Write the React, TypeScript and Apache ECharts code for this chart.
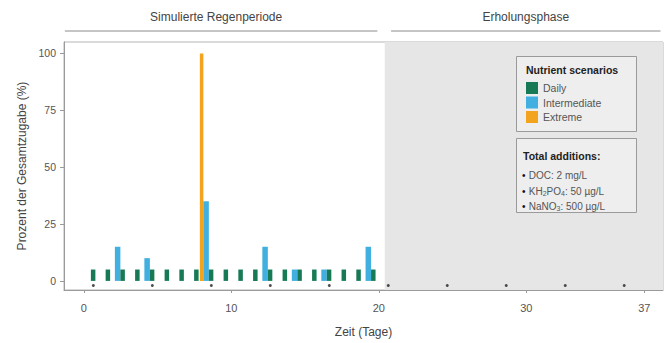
import React, { useEffect, useRef } from "react";
import * as echarts from "echarts";

// ---- data ----
const dailyDays = [0, 1, 2, 3, 4, 5, 6, 7, 8, 9, 10, 11, 12, 13, 14, 15, 16, 17, 18, 19];
const dailyValues = [5, 5, 5, 5, 5, 5, 5, 5, 5, 5, 5, 5, 5, 5, 5, 5, 5, 5, 5, 5];
const intermediateDays = [2, 4, 8, 12, 14, 16, 19];
const intermediateValues = [15, 10, 35, 15, 5, 5, 15];
const extremeDays = [8];
const extremeValues = [100];
const samplingDays = [0, 4, 8, 12, 16, 20, 24, 28, 32, 36];
const samplingLevel = -2;

const xTickValues = [0, 10, 20, 30, 38];
const xTickLabels = ["0", "10", "20", "30", "37"];
const yTickValues = [0, 25, 50, 75, 100];

const phaseNames = ["Simulierte Regenperiode", "Erholungsphase"];
const phaseStarts = [-1.29, 20.83];
const phaseEnds = [19.9, 39.1];
const recoveryStart = 20.4;

const seriesNames = ["Daily", "Intermediate", "Extreme"];
const seriesColors = ["#177a55", "#41afe0", "#f2a41e"];

const additionsTitle = "Total additions:";
const additionLines = [
  "DOC: 2 mg/L",
  "KH{s|2}PO{s|4}: 50 µg/L",
  "NaNO{s|3}: 500 µg/L",
];
const legendTitle = "Nutrient scenarios";

// bars of one day form a group whose centre sits a little after the day start
const groupShift = 0.32;
const sampleShift = 0.64;

const X_MIN = -1.35;
const X_MAX = 39.27;

const FONT = "'Liberation Sans', Arial, Helvetica, sans-serif";

export default function App() {
  const ref = useRef<HTMLDivElement>(null);

  useEffect(() => {
    if (!ref.current) return;
    const chart = echarts.init(ref.current, null, { renderer: "svg" });

    const pairs = (xs: number[], ys: number[], shift: number) =>
      xs.map((x, i) => [x + shift, ys[i]]);

    const option: any = {
      animation: false,
      backgroundColor: "#ffffff",
      textStyle: { fontFamily: FONT },
      grid: {
        left: 64,
        right: 5,
        top: 42,
        bottom: 50,
        show: true,
        borderColor: "#b5b5b5",
        borderWidth: 1,
        backgroundColor: "transparent",
      },
      legend: {
        data: seriesNames,
        orient: "vertical",
        left: 526,
        top: 82,
        padding: 0,
        itemWidth: 12,
        itemHeight: 12,
        itemGap: 2.5,
        icon: "rect",
        z: 6,
        selectedMode: false,
        textStyle: { fontSize: 10.5, color: "#555", fontFamily: FONT },
      },
      xAxis: {
        type: "value",
        min: X_MIN,
        max: X_MAX,
        splitLine: { show: false },
        axisLine: { show: true, onZero: false, lineStyle: { color: "#9a9a9a" } },
        axisTick: {
          show: true,
          length: 3,
          customValues: xTickValues,
          lineStyle: { color: "#9a9a9a" },
        },
        axisLabel: {
          customValues: xTickValues,
          formatter: (v: number) => {
            const i = xTickValues.indexOf(v);
            return i >= 0 ? xTickLabels[i] : "";
          },
          color: "#555",
          fontSize: 11,
          margin: 12,
          fontFamily: FONT,
        },
        name: "Zeit (Tage)",
        nameLocation: "middle",
        nameGap: 36,
        nameTextStyle: { fontSize: 12, color: "#444", fontFamily: FONT },
      },
      yAxis: {
        type: "value",
        min: -4,
        max: 105,
        splitLine: { show: false },
        axisLine: { show: true, onZero: false, lineStyle: { color: "#9a9a9a" } },
        axisTick: {
          show: true,
          length: 4,
          customValues: yTickValues,
          lineStyle: { color: "#9a9a9a" },
        },
        axisLabel: {
          customValues: yTickValues,
          color: "#555",
          fontSize: 10.5,
          margin: 8,
          fontFamily: FONT,
        },
        name: "Prozent der Gesamtzugabe (%)",
        nameLocation: "middle",
        nameGap: 36,
        nameTextStyle: { fontSize: 12, color: "#444", fontFamily: FONT },
      },
      series: [
        {
          name: seriesNames[2],
          type: "bar",
          barWidth: 3.5,
          barGap: "0%",
          itemStyle: { color: seriesColors[2] },
          data: pairs(extremeDays, extremeValues, groupShift),
          z: 3,
          markArea: {
            silent: true,
            itemStyle: { color: "#e6e6e6" },
            data: [[{ xAxis: recoveryStart }, { xAxis: X_MAX }]],
          },
        },
        {
          name: seriesNames[1],
          type: "bar",
          barWidth: 5.5,
          barGap: "0%",
          itemStyle: { color: seriesColors[1] },
          data: pairs(intermediateDays, intermediateValues, groupShift),
          z: 3,
        },
        {
          name: seriesNames[0],
          type: "bar",
          barWidth: 4.5,
          barGap: "0%",
          itemStyle: { color: seriesColors[0] },
          data: pairs(dailyDays, dailyValues, groupShift),
          z: 3,
        },
        {
          name: "Probenahme",
          type: "scatter",
          symbol: "circle",
          symbolSize: 3,
          itemStyle: { color: "#222" },
          data: samplingDays.map((d) => [d + sampleShift, samplingLevel]),
          z: 4,
          silent: true,
        },
      ],
    };
    chart.setOption(option);

    const graphics: any[] = [];
    phaseNames.forEach((name, i) => {
      const x1 = chart.convertToPixel({ xAxisIndex: 0 }, phaseStarts[i]) as number;
      const x2 = chart.convertToPixel({ xAxisIndex: 0 }, phaseEnds[i]) as number;
      graphics.push({
        type: "line",
        shape: { x1, y1: 31, x2, y2: 31 },
        style: { stroke: "#8c8c8c", lineWidth: 1 },
        z: 10,
      });
      graphics.push({
        type: "text",
        x: (x1 + x2) / 2 - (i === 0 ? 5 : 0),
        y: 16.5,
        style: {
          text: name,
          fontSize: 12,
          fontFamily: FONT,
          fill: "#444",
          align: "center",
          verticalAlign: "middle",
        },
        z: 10,
      });
    });

    // legend box
    graphics.push({
      type: "rect",
      shape: { x: 516.5, y: 56.5, width: 120, height: 75 },
      style: { fill: "#eeeeee", stroke: "#9a9a9a", lineWidth: 1 },
      z: 5,
    });
    graphics.push({
      type: "text",
      x: 526,
      y: 70,
      style: {
        text: legendTitle,
        fontSize: 10.5,
        fontWeight: "bold",
        fontFamily: FONT,
        fill: "#222",
        align: "left",
        verticalAlign: "middle",
      },
      z: 7,
    });
    // additions box
    graphics.push({
      type: "rect",
      shape: { x: 516.5, y: 138.5, width: 120, height: 74 },
      style: { fill: "#eeeeee", stroke: "#9a9a9a", lineWidth: 1 },
      z: 5,
    });
    graphics.push({
      type: "text",
      x: 523,
      y: 156,
      style: {
        text: additionsTitle,
        fontSize: 10.5,
        fontWeight: "bold",
        fontFamily: FONT,
        fill: "#222",
        align: "left",
        verticalAlign: "middle",
      },
      z: 7,
    });
    const lineYs = [174, 190, 205];
    additionLines.forEach((t, i) => {
      graphics.push({
        type: "text",
        x: 522,
        y: lineYs[i],
        style: {
          text: "{b|•} {m|" + t.replace(/\{s\|(\d)\}/g, "}{s|$1}{m|") + "}",
          fontFamily: FONT,
          align: "left",
          verticalAlign: "middle",
          rich: {
            b: { fontSize: 10, fill: "#111", verticalAlign: "bottom", lineHeight: 13, fontFamily: FONT },
            m: { fontSize: 10, fill: "#555", verticalAlign: "bottom", lineHeight: 13, fontFamily: FONT },
            s: { fontSize: 7, fill: "#555", verticalAlign: "bottom", lineHeight: 9, fontFamily: FONT },
          },
        },
        z: 7,
      });
    });

    chart.setOption({ graphic: graphics });

    return () => chart.dispose();
  }, []);

  return (
    <div
      ref={ref}
      style={{ position: "absolute", left: 0, top: 0, width: 668, height: 343 }}
    />
  );
}
